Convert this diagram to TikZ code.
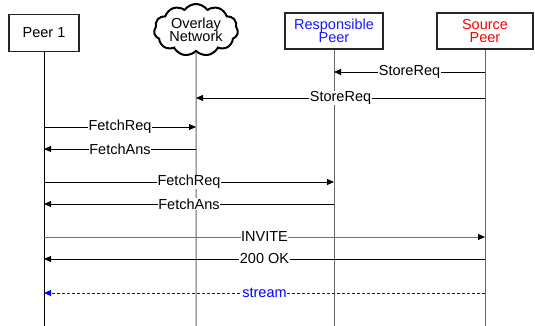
\documentclass[tikz,border=0pt]{standalone}
\usepackage{fontspec}
\setmainfont{Liberation Sans}
\usepackage{tikz}
\usetikzlibrary{
  positioning,
  arrows.meta,
  calc, shapes.symbols
}
\tikzset{
  actor/.style={
    draw=black!85,
    line width=1.4pt,
    fill=white,
    align=center,
    inner sep=1pt,
    minimum width=70pt,
    minimum height=37pt,
  },
  overlay/.style={
    draw=black,
    cloud,
    cloud puffs=11,
    cloud puff arc=110,
    aspect=1.7,
    line width=2pt,
    fill=white,
    align=center,
    inner sep=-4pt,
    minimum width=84pt,
    minimum height=52pt,
  },
  lifeline/.style={
    black!60,
    line width=1pt,
  },
  msg/.style={
    -{Triangle[length=7pt,width=6pt,color=black]},
    line width=0.8pt,
  },
  lbl/.style={
    fill=white,
    inner sep=0.5pt,
  },
}

\begin{document}
\begin{tikzpicture}[x=1pt,y=1pt,font=\fontsize{14.5}{16}\selectfont]
		\useasboundingbox (0,0) rectangle (535,-326);

		% header nodes
		\node[actor] (peer1) at (44,-33) {Peer 1};
		\node[overlay] (net) at (196,-30) {Overlay\\[-3pt]Network};
		\node[actor, minimum width=98pt, minimum height=36pt, text=blue!90] (resp) at (334,-31) {Responsible\\[-3pt]Peer};
		\node[actor, minimum width=96pt, minimum height=36pt, text=red] (src) at (485,-31) {Source\\[-3pt]Peer};

		% rows
		\coordinate (bottom) at (0,-326);
		\coordinate (r1) at (0,-72);
		\coordinate (r2) at (0,-98);
		\coordinate (r3) at (0,-127);
		\coordinate (r4) at (0,-149);
		\coordinate (r5) at (0,-182);
		\coordinate (r6) at (0,-204);
		\coordinate (r7) at (0,-237);
		\coordinate (r8) at (0,-259);
		\coordinate (r9) at (0,-293);

		% lifelines
		\draw[lifeline, black] (peer1) -- (peer1 |- bottom);
		\draw[lifeline] (net) -- (net |- bottom);
		\draw[lifeline] (resp) -- (resp |- bottom);
		\draw[lifeline] (src) -- (src |- bottom);

		% messages
		\draw[msg] (src |- r1) -- node[lbl] {StoreReq} (resp |- r1);
		\draw[msg] (src |- r2) -- node[lbl] {StoreReq} (net |- r2);
		\draw[msg] (peer1 |- r3) -- node[lbl] {FetchReq} (net |- r3);
		\draw[msg] (net |- r4) -- node[lbl] {FetchAns} (peer1 |- r4);
		\draw[msg] (peer1 |- r5) -- node[lbl] {FetchReq} (resp |- r5);
		\draw[msg] (resp |- r6) -- node[lbl] {FetchAns} (peer1 |- r6);
		\draw[msg, draw=black!55] (peer1 |- r7) -- node[lbl] {INVITE} (src |- r7);
		\draw[msg] (src |- r8) -- node[lbl] {200 OK} (peer1 |- r8);
		\draw[msg, blue, densely dashed, -{Triangle[length=7pt,width=6pt]}] (src |- r9) -- node[lbl] {stream} (peer1 |- r9);

	\end{tikzpicture}
\end{document}
